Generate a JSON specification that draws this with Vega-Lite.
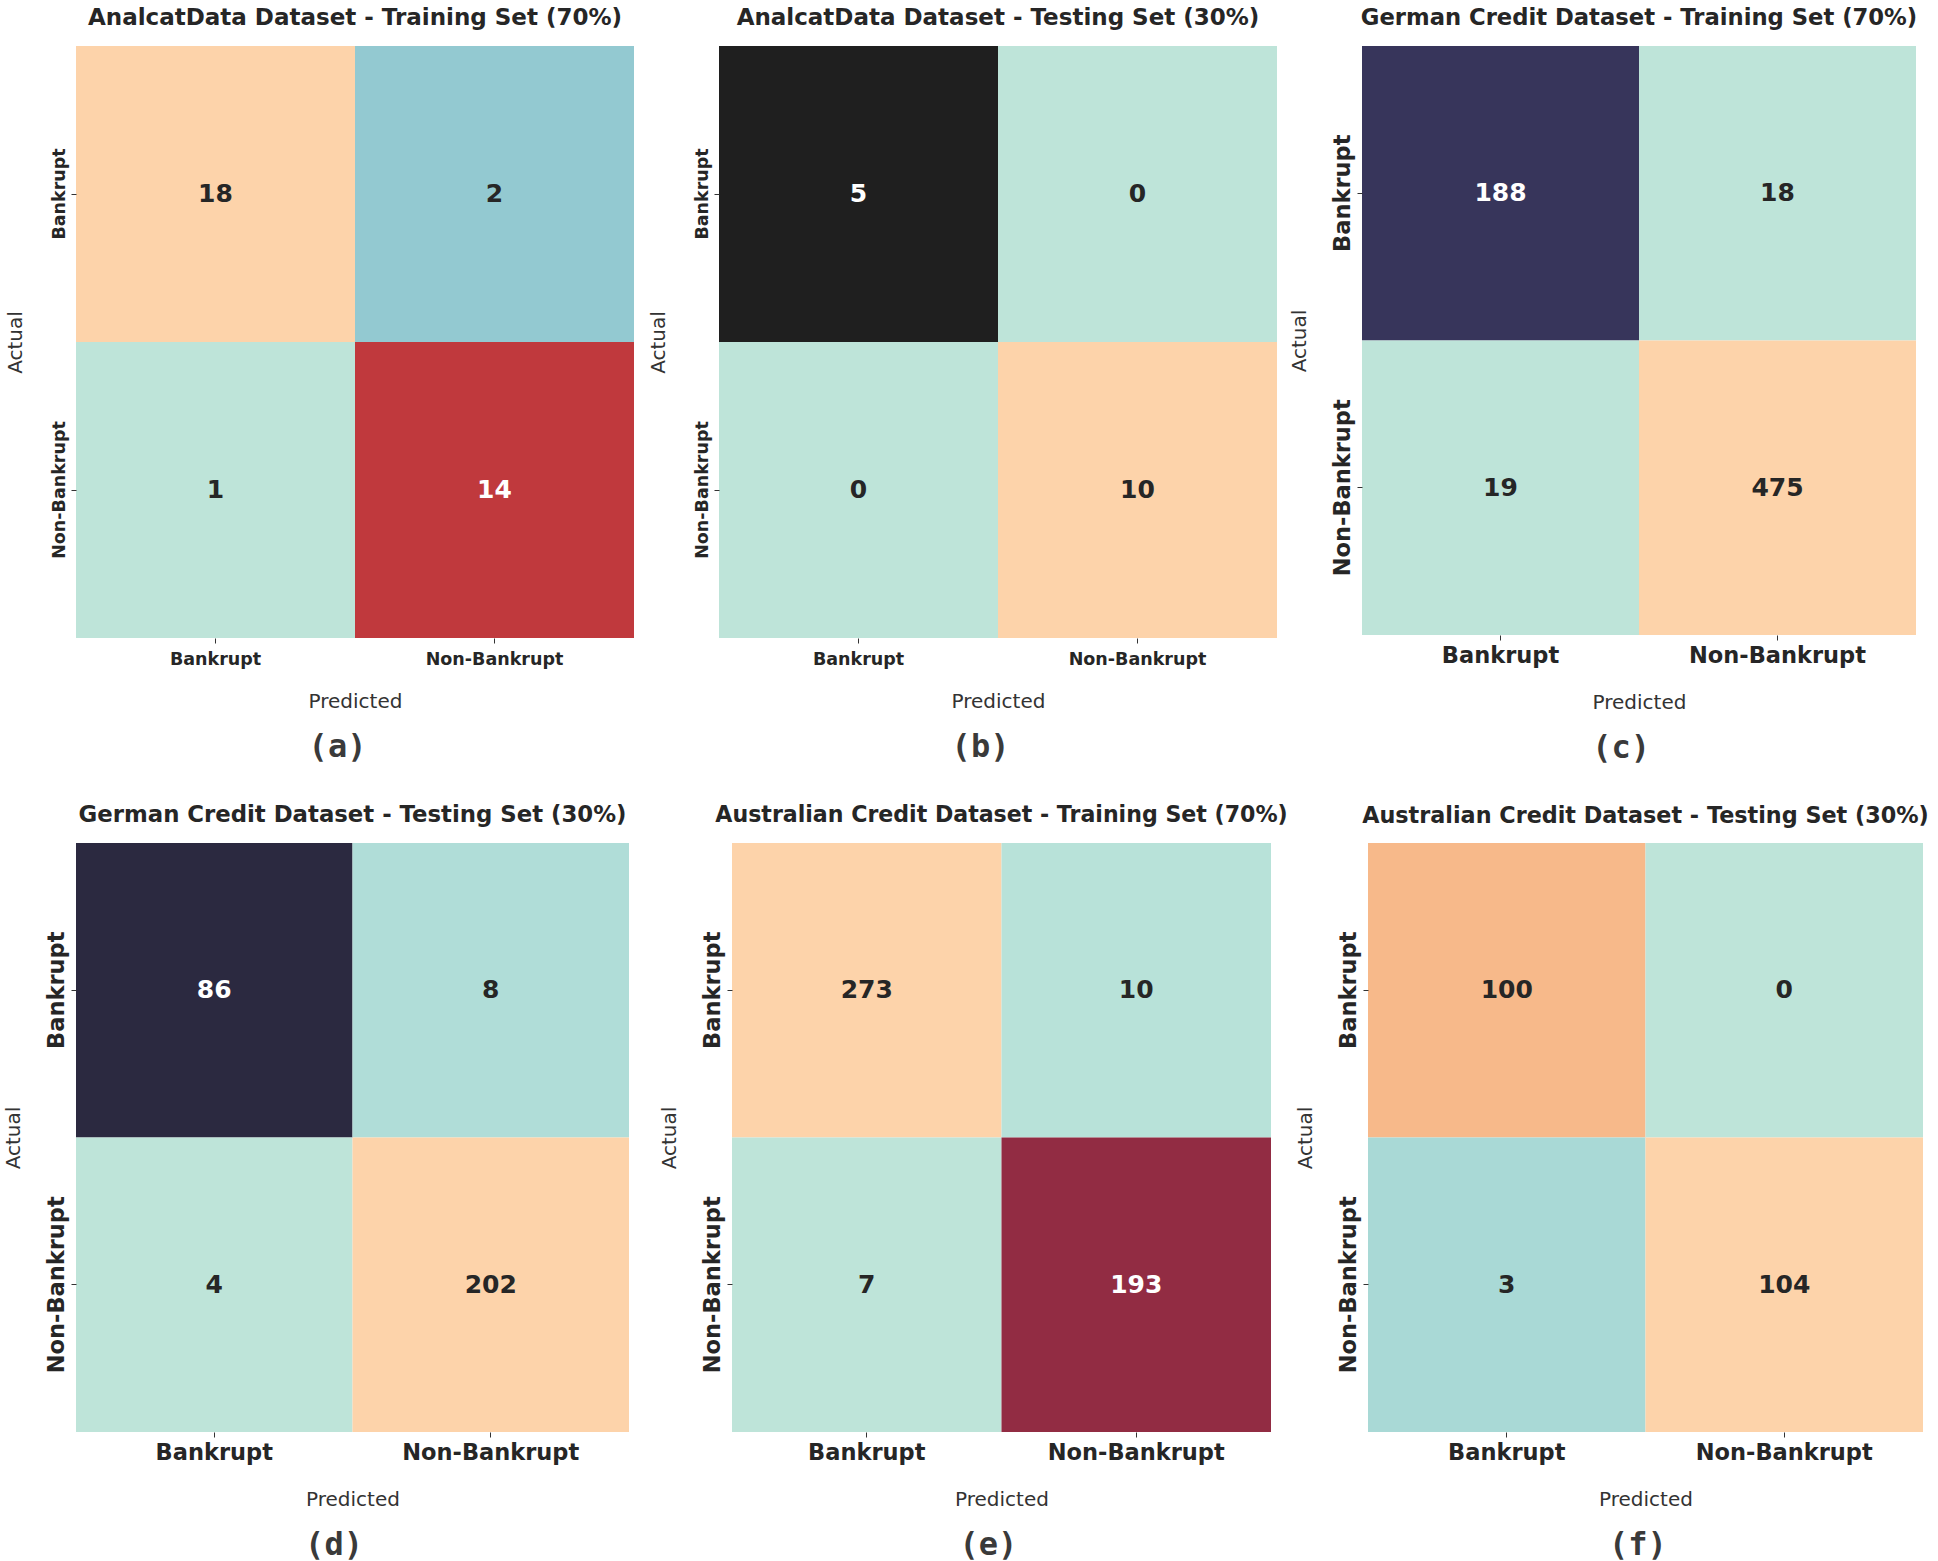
{
  "$schema": "https://vega.github.io/schema/vega-lite/v6.json",
  "background": "white",
  "padding": {"left": 3, "top": 7, "right": 4, "bottom": 4},
  "data": {"values": [
    {"panel": "a", "actual": "Bankrupt", "predicted": "Bankrupt", "value": 18},
    {"panel": "a", "actual": "Bankrupt", "predicted": "Non-Bankrupt", "value": 2},
    {"panel": "a", "actual": "Non-Bankrupt", "predicted": "Bankrupt", "value": 1},
    {"panel": "a", "actual": "Non-Bankrupt", "predicted": "Non-Bankrupt", "value": 14},
    {"panel": "b", "actual": "Bankrupt", "predicted": "Bankrupt", "value": 5},
    {"panel": "b", "actual": "Bankrupt", "predicted": "Non-Bankrupt", "value": 0},
    {"panel": "b", "actual": "Non-Bankrupt", "predicted": "Bankrupt", "value": 0},
    {"panel": "b", "actual": "Non-Bankrupt", "predicted": "Non-Bankrupt", "value": 10},
    {"panel": "c", "actual": "Bankrupt", "predicted": "Bankrupt", "value": 188},
    {"panel": "c", "actual": "Bankrupt", "predicted": "Non-Bankrupt", "value": 18},
    {"panel": "c", "actual": "Non-Bankrupt", "predicted": "Bankrupt", "value": 19},
    {"panel": "c", "actual": "Non-Bankrupt", "predicted": "Non-Bankrupt", "value": 475},
    {"panel": "d", "actual": "Bankrupt", "predicted": "Bankrupt", "value": 86},
    {"panel": "d", "actual": "Bankrupt", "predicted": "Non-Bankrupt", "value": 8},
    {"panel": "d", "actual": "Non-Bankrupt", "predicted": "Bankrupt", "value": 4},
    {"panel": "d", "actual": "Non-Bankrupt", "predicted": "Non-Bankrupt", "value": 202},
    {"panel": "e", "actual": "Bankrupt", "predicted": "Bankrupt", "value": 273},
    {"panel": "e", "actual": "Bankrupt", "predicted": "Non-Bankrupt", "value": 10},
    {"panel": "e", "actual": "Non-Bankrupt", "predicted": "Bankrupt", "value": 7},
    {"panel": "e", "actual": "Non-Bankrupt", "predicted": "Non-Bankrupt", "value": 193},
    {"panel": "f", "actual": "Bankrupt", "predicted": "Bankrupt", "value": 100},
    {"panel": "f", "actual": "Bankrupt", "predicted": "Non-Bankrupt", "value": 0},
    {"panel": "f", "actual": "Non-Bankrupt", "predicted": "Bankrupt", "value": 3},
    {"panel": "f", "actual": "Non-Bankrupt", "predicted": "Non-Bankrupt", "value": 104}
  ]},
  "config": {
    "view": {"stroke": null},
    "font": "DejaVu Sans",
    "axis": {"domain": false, "grid": false, "tickColor": "#333333", "tickSize": 5, "tickWidth": 1,
      "labelFont": "DejaVu Sans", "labelFontWeight": "bold", "labelColor": "#262626",
      "titleFont": "DejaVu Sans", "titleFontWeight": "normal", "titleColor": "#333333", "titleFontSize": 20},
    "axisX": {"labelAngle": 0},
    "axisY": {"labelAngle": -90, "labelAlign": "center", "labelBaseline": "bottom", "labelPadding": 3},
    "title": {"font": "DejaVu Sans", "fontWeight": "bold", "fontSize": 22.5, "color": "#262626", "frame": "group", "anchor": "middle", "offset": 16}
  },
  "resolve": {"scale": {"color": "independent"}},
  "spacing": 39,
  "vconcat": [
    {
      "spacing": 12,
      "resolve": {"scale": {"color": "independent"}},
      "hconcat": [
        {
          "spacing": 14,
          "resolve": {"scale": {"color": "independent"}},
          "hconcat": [
            {
              "title": {"text": "(a)", "orient": "bottom", "anchor": "middle", "frame": "bounds", "font": "DejaVu Sans Mono", "fontSize": 32, "fontWeight": "bold", "color": "#3a3a3a", "offset": 20, "dx": 18},
              "vconcat": [{
                "title": {"text": "AnalcatData Dataset - Training Set (70%)", "fontSize": 23},
                "width": 558, "height": 592,
                "transform": [{"filter": "datum.panel == 'a'"}],
                "encoding": {
                  "x": {"field": "predicted", "type": "nominal", "sort": ["Bankrupt", "Non-Bankrupt"], "title": "Predicted", "axis": {"labelFontSize": 17.5, "labelPadding": 7, "titlePadding": 24}},
                  "y": {"field": "actual", "type": "nominal", "sort": ["Bankrupt", "Non-Bankrupt"], "title": "Actual", "axis": {"labelFontSize": 17.5, "titlePadding": 25}}
                },
                "layer": [
                  {"mark": {"type": "rect"}, "encoding": {"color": {"field": "value", "type": "ordinal", "legend": null, "scale": {"domain": [1, 2, 14, 18], "range": ["#bee4d9", "#93c9d1", "#c0393d", "#fdd3aa"]}}}},
                  {"mark": {"type": "text", "fontWeight": "bold", "fontSize": 25}, "encoding": {"text": {"field": "value", "type": "quantitative"}, "color": {"condition": {"test": "datum.value == 14", "value": "white"}, "value": "#262626"}}}
                ]
              }]
            },
            {
              "title": {"text": "(b)", "orient": "bottom", "anchor": "middle", "frame": "bounds", "font": "DejaVu Sans Mono", "fontSize": 32, "fontWeight": "bold", "color": "#3a3a3a", "offset": 20, "dx": 18},
              "vconcat": [{
                "title": {"text": "AnalcatData Dataset - Testing Set (30%)", "fontSize": 23},
                "width": 558, "height": 592,
                "transform": [{"filter": "datum.panel == 'b'"}],
                "encoding": {
                  "x": {"field": "predicted", "type": "nominal", "sort": ["Bankrupt", "Non-Bankrupt"], "title": "Predicted", "axis": {"labelFontSize": 17.5, "labelPadding": 7, "titlePadding": 24}},
                  "y": {"field": "actual", "type": "nominal", "sort": ["Bankrupt", "Non-Bankrupt"], "title": "Actual", "axis": {"labelFontSize": 17.5, "titlePadding": 25}}
                },
                "layer": [
                  {"mark": {"type": "rect"}, "encoding": {"color": {"field": "value", "type": "ordinal", "legend": null, "scale": {"domain": [0, 5, 10], "range": ["#bee4d9", "#1f1f1f", "#fdd3aa"]}}}},
                  {"mark": {"type": "text", "fontWeight": "bold", "fontSize": 25}, "encoding": {"text": {"field": "value", "type": "quantitative"}, "color": {"condition": {"test": "datum.value == 5", "value": "white"}, "value": "#262626"}}}
                ]
              }]
            }
          ]
        },
        {
          "title": {"text": "(c)", "orient": "bottom", "anchor": "middle", "frame": "bounds", "font": "DejaVu Sans Mono", "fontSize": 32, "fontWeight": "bold", "color": "#3a3a3a", "offset": 20, "dx": 18},
          "vconcat": [{
            "title": {"text": "German Credit Dataset - Training Set (70%)", "fontSize": 22.7},
            "width": 554, "height": 589,
            "transform": [{"filter": "datum.panel == 'c'"}],
            "encoding": {
              "x": {"field": "predicted", "type": "nominal", "sort": ["Bankrupt", "Non-Bankrupt"], "title": "Predicted", "axis": {"labelFontSize": 22.5, "labelPadding": 4, "titlePadding": 26}},
              "y": {"field": "actual", "type": "nominal", "sort": ["Bankrupt", "Non-Bankrupt"], "title": "Actual", "axis": {"labelFontSize": 22.5, "titlePadding": 22}}
            },
            "layer": [
              {"mark": {"type": "rect"}, "encoding": {"color": {"field": "value", "type": "ordinal", "legend": null, "scale": {"domain": [18, 19, 188, 475], "range": ["#bee4d9", "#bee4d9", "#37355b", "#fdd3aa"]}}}},
              {"mark": {"type": "text", "fontWeight": "bold", "fontSize": 25}, "encoding": {"text": {"field": "value", "type": "quantitative"}, "color": {"condition": {"test": "datum.value == 188", "value": "white"}, "value": "#262626"}}}
            ]
          }]
        }
      ]
    },
    {
      "spacing": 7,
      "resolve": {"scale": {"color": "independent"}},
      "hconcat": [
        {
          "spacing": 30,
          "resolve": {"scale": {"color": "independent"}},
          "hconcat": [
            {
              "title": {"text": "(d)", "orient": "bottom", "anchor": "middle", "frame": "bounds", "font": "DejaVu Sans Mono", "fontSize": 32, "fontWeight": "bold", "color": "#3a3a3a", "offset": 20, "dx": 18},
              "vconcat": [{
                "title": {"text": "German Credit Dataset - Testing Set (30%)", "fontSize": 22.8},
                "width": 553, "height": 589,
                "transform": [{"filter": "datum.panel == 'd'"}],
                "encoding": {
                  "x": {"field": "predicted", "type": "nominal", "sort": ["Bankrupt", "Non-Bankrupt"], "title": "Predicted", "axis": {"labelFontSize": 22.5, "labelPadding": 4, "titlePadding": 26}},
                  "y": {"field": "actual", "type": "nominal", "sort": ["Bankrupt", "Non-Bankrupt"], "title": "Actual", "axis": {"labelFontSize": 22.5, "titlePadding": 22}}
                },
                "layer": [
                  {"mark": {"type": "rect"}, "encoding": {"color": {"field": "value", "type": "ordinal", "legend": null, "scale": {"domain": [4, 8, 86, 202], "range": ["#bee4d9", "#b0ddd8", "#2b2940", "#fdd3aa"]}}}},
                  {"mark": {"type": "text", "fontWeight": "bold", "fontSize": 25}, "encoding": {"text": {"field": "value", "type": "quantitative"}, "color": {"condition": {"test": "datum.value == 86", "value": "white"}, "value": "#262626"}}}
                ]
              }]
            },
            {
              "title": {"text": "(e)", "orient": "bottom", "anchor": "middle", "frame": "bounds", "font": "DejaVu Sans Mono", "fontSize": 32, "fontWeight": "bold", "color": "#3a3a3a", "offset": 20, "dx": 15},
              "vconcat": [{
                "title": {"text": "Australian Credit Dataset - Training Set (70%)", "fontSize": 22.1},
                "width": 539, "height": 589,
                "transform": [{"filter": "datum.panel == 'e'"}],
                "encoding": {
                  "x": {"field": "predicted", "type": "nominal", "sort": ["Bankrupt", "Non-Bankrupt"], "title": "Predicted", "axis": {"labelFontSize": 22.5, "labelPadding": 4, "titlePadding": 26}},
                  "y": {"field": "actual", "type": "nominal", "sort": ["Bankrupt", "Non-Bankrupt"], "title": "Actual", "axis": {"labelFontSize": 22.5, "titlePadding": 22}}
                },
                "layer": [
                  {"mark": {"type": "rect"}, "encoding": {"color": {"field": "value", "type": "ordinal", "legend": null, "scale": {"domain": [7, 10, 193, 273], "range": ["#bee4d9", "#b8e2d9", "#922c43", "#fdd3aa"]}}}},
                  {"mark": {"type": "text", "fontWeight": "bold", "fontSize": 25}, "encoding": {"text": {"field": "value", "type": "quantitative"}, "color": {"condition": {"test": "datum.value == 193", "value": "white"}, "value": "#262626"}}}
                ]
              }]
            }
          ]
        },
        {
          "title": {"text": "(f)", "orient": "bottom", "anchor": "middle", "frame": "bounds", "font": "DejaVu Sans Mono", "fontSize": 32, "fontWeight": "bold", "color": "#3a3a3a", "offset": 20, "dx": 26},
          "vconcat": [{
            "title": {"text": "Australian Credit Dataset - Testing Set (30%)", "fontSize": 22.3},
            "width": 555, "height": 589,
            "transform": [{"filter": "datum.panel == 'f'"}],
            "encoding": {
              "x": {"field": "predicted", "type": "nominal", "sort": ["Bankrupt", "Non-Bankrupt"], "title": "Predicted", "axis": {"labelFontSize": 22.5, "labelPadding": 4, "titlePadding": 26}},
              "y": {"field": "actual", "type": "nominal", "sort": ["Bankrupt", "Non-Bankrupt"], "title": "Actual", "axis": {"labelFontSize": 22.5, "titlePadding": 22}}
            },
            "layer": [
              {"mark": {"type": "rect"}, "encoding": {"color": {"field": "value", "type": "ordinal", "legend": null, "scale": {"domain": [0, 3, 100, 104], "range": ["#bee4d9", "#a9d9d6", "#f7b98a", "#fdd3aa"]}}}},
              {"mark": {"type": "text", "fontWeight": "bold", "fontSize": 25}, "encoding": {"text": {"field": "value", "type": "quantitative"}, "color": {"value": "#262626"}}}
            ]
          }]
        }
      ]
    }
  ]
}
